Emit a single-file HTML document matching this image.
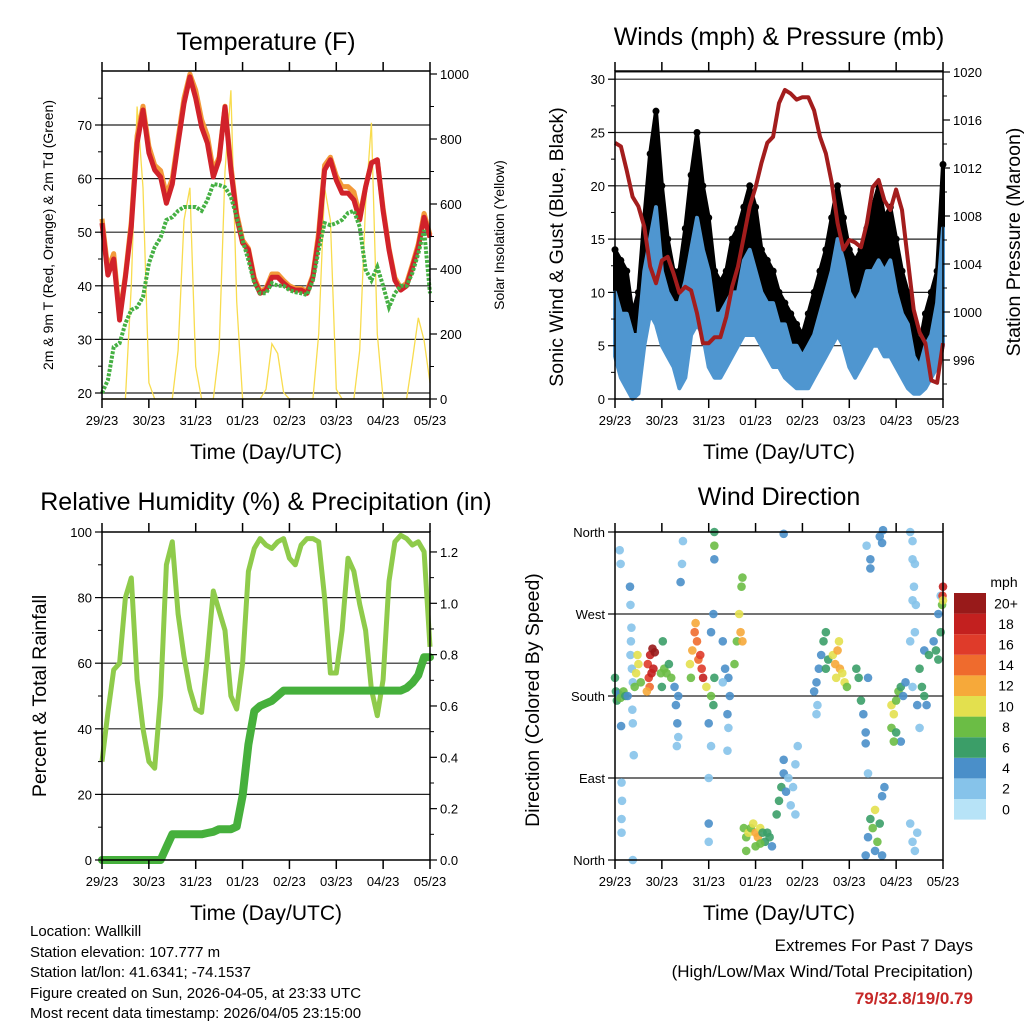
<!DOCTYPE html>
<html><head><meta charset="utf-8">
<style>
html,body{margin:0;padding:0;background:#fff;}
svg{display:block;font-family:"Liberation Sans",Arial,sans-serif;}
</style></head>
<body>
<svg id="chart" width="1024" height="1024" viewBox="0 0 1024 1024" xmlns="http://www.w3.org/2000/svg">
<rect width="1024" height="1024" fill="#fff"/>
<g id="p1"></g>
<g id="p2"></g>
<g id="p3"></g>
<g id="p4"></g>

<text x="266" y="50" font-size="25" text-anchor="middle">Temperature (F)</text>
<text x="779" y="45" font-size="25" text-anchor="middle">Winds (mph) &amp; Pressure (mb)</text>
<text x="266" y="510" font-size="25" text-anchor="middle">Relative Humidity (%) &amp; Precipitation (in)</text>
<text x="779" y="505" font-size="25" text-anchor="middle">Wind Direction</text>

<text x="266" y="459" font-size="21" text-anchor="middle">Time (Day/UTC)</text>
<text x="779" y="459" font-size="21" text-anchor="middle">Time (Day/UTC)</text>
<text x="266" y="920" font-size="21" text-anchor="middle">Time (Day/UTC)</text>
<text x="779" y="920" font-size="21" text-anchor="middle">Time (Day/UTC)</text>

<text transform="translate(53,235) rotate(-90)" font-size="14" text-anchor="middle">2m &amp; 9m T (Red, Orange) &amp; 2m Td (Green)</text>
<text transform="translate(504,235) rotate(-90)" font-size="14" text-anchor="middle">Solar Insolation (Yellow)</text>
<text transform="translate(563,247) rotate(-90)" font-size="19.5" text-anchor="middle">Sonic Wind &amp; Gust (Blue, Black)</text>
<text transform="translate(1020,242) rotate(-90)" font-size="19.5" text-anchor="middle">Station Pressure (Maroon)</text>
<text transform="translate(46,696) rotate(-90)" font-size="19.5" text-anchor="middle">Percent &amp; Total Rainfall</text>
<text transform="translate(539,700) rotate(-90)" font-size="19.5" text-anchor="middle">Direction (Colored By Speed)</text>

<g font-size="15">
<text x="30" y="936">Location: Wallkill</text>
<text x="30" y="957">Station elevation: 107.777 m</text>
<text x="30" y="977">Station lat/lon: 41.6341; -74.1537</text>
<text x="30" y="998">Figure created on Sun, 2026-04-05, at 23:33 UTC</text>
<text x="30" y="1018">Most recent data timestamp: 2026/04/05 23:15:00</text>
</g>
<g font-size="17" text-anchor="end">
<text x="973" y="951">Extremes For Past 7 Days</text>
<text x="973" y="977">(High/Low/Max Wind/Total Precipitation)</text>
<text x="973" y="1004" fill="#c62828" font-weight="bold">79/32.8/19/0.79</text>
</g>
<g id="cbar"></g>
</svg>
<script>
// ---------- data ----------
const sampleHours = [0,3,6,9,12,15,18,21,24,27,30,33,36,39,42,45,48,51,54,57,60,63,66,69,72,75,78,81,84,87,90,93,96,99,102,105,108,111,114,117,120,123,126,129,132,135,138,141,144,147,150,153,156,159,162,165,168];
const dayLabels = ["29/23","30/23","31/23","01/23","02/23","03/23","04/23","05/23"];
const temp2m = [51.7,42,45,33.6,41.6,51,66.6,72.8,64.8,61.6,60.3,55.4,59,66.6,74,79,75,69.6,66.6,60.3,63.5,73.4,61.6,52.8,48,46.7,41,38.6,39.2,41.6,41.6,40.5,39.6,39.2,39.2,38.6,41.6,49,61.6,63.5,59.7,57.3,57.3,56,52.3,58.4,62.9,63.5,54,46.7,41,39.2,40,43.5,47.2,52.8,49];
const temp9m = [52.5,43,46,34.5,42,52,68,73.5,66,62.5,61.5,57,60,67.5,75,79.5,76.5,71,68,61.5,64,73.5,62.5,53.5,48.5,47,41.5,39,39.5,42.2,42.2,41,40,39.5,39.5,39,42,50,62.5,64,60.5,58.5,58.5,57.5,53,58.5,63,63.5,54.5,47,41.5,39.6,40.5,44,47.8,53.5,49.5];
const dewpoint = [20,22.4,28.6,29.3,33,35.5,36,37.9,44.2,47.2,49,52.3,52.8,54,54.7,54.7,54.7,54,56,59,58.8,58.4,56.6,52.8,48.5,44.8,40.5,38.6,38.6,40.5,40,40,39.2,38.8,38.6,38.3,41,46.7,51.7,51.3,51.7,52.3,53.6,54,51,43,41,43.5,40,36,38.6,40,40,42.4,46,50.4,38.6];
const solar = [0,0,0,0,0,350,900,650,50,0,0,0,0,150,550,650,100,0,0,0,150,700,950,300,0,0,0,0,30,170,140,20,0,0,0,0,0,200,650,550,30,0,0,0,150,600,850,200,0,0,0,0,0,120,250,180,50];
const pressure = [1014.1,1013.8,1011.8,1009.6,1008.8,1007.1,1003.8,1002.4,1004.3,1004.6,1003.2,1001.6,1002.1,1001.8,999.9,997.4,997.4,997.9,997.9,999.6,1002.1,1003.8,1006.3,1008.8,1010.4,1012.4,1014.1,1014.6,1017.4,1018.5,1018.2,1017.7,1017.9,1017.9,1016.8,1014.6,1013.2,1010.8,1007.4,1005.2,1006,1005.8,1005.4,1007.4,1010.4,1011,1009.3,1008.5,1010.2,1008.5,1004.3,1000.2,998.3,997.4,994.3,994.1,997.4];
const gustHigh = [14,13,12,8,10,17,23,27,20,15,12,12,16,21,25,20,17,12,11,12,15,16,18,20,18,14,13,12,10,9,8,7,6,8,10,12,14,17,20,17,14,13,14,16,18,20,17,18,15,12,10,7,5,8,10,12,22];
const gustLow = [8,5,3,0.5,3,8,12,12,9,7,5,3,5,10,13,10,7,5,4,6,8,8,9,10,10,8,7,6,5,4,3,2,2,3,4,6,7,8,10,8,6,5,6,8,9,9,7,8,7,5,4,2,1.5,3,4,6,10];
const windHigh = [10,8,8,6,6,12,15,18,12,10,9,9,11,14,17,14,12,8,8,9,10,10,13,14,12,10,9,9,7,7,5,5,4,5,6,8,10,12,15,13,10,9,10,12,12,13,12,13,10,8,7,4,3,5,6,9,16];
const windLow = [4,2,1,0,0.5,5,8,7,5,4,3,1,2,6,7,6,3,2,2,3,4,5,6,6,6,5,4,3,3,2,1.5,1,1,1,2,3,4,5,6,5,3,2,3,4,5,5,4,4,3,2,1,0.5,0.5,1,2,3,5];
const humidity = [30,45,58,60,80,86,55,40,30,28,50,90,97,75,62,52,46,45,62,82,76,70,50,46,60,88,95,98,96,95,97,98,92,90,96,98,98,97,80,57,57,70,92,88,78,70,52,44,55,85,97,99,98,96,97,94,65];
const rainfall = [0,0,0,0,0,0,0,0,0,0,0,0.05,0.1,0.1,0.1,0.1,0.1,0.1,0.105,0.11,0.12,0.12,0.12,0.13,0.25,0.45,0.58,0.6,0.61,0.62,0.64,0.66,0.66,0.66,0.66,0.66,0.66,0.66,0.66,0.66,0.66,0.66,0.66,0.66,0.66,0.66,0.66,0.66,0.66,0.66,0.66,0.66,0.67,0.69,0.72,0.79,0.79];
const dirDays = [0,0.02,0.04,0.08,0.12,0.18,0.22,0.27,0.13,0.1,0.12,0.32,0.33,0.35,0.34,0.33,0.36,0.38,0.37,0.38,0.4,0.14,0.15,0.14,0.14,0.38,0.45,0.5,0.55,0.42,0.48,0.7,0.75,0.8,0.85,0.72,0.78,0.74,0.68,0.82,0.98,1.05,1.1,1.15,1.2,1.0,1.02,1.27,1.3,1.33,1.35,1.32,1.35,1.43,1.4,1.45,1.6,1.65,1.7,1.75,1.78,1.85,1.88,1.82,1.72,1.95,1.62,2.05,2.1,2.12,2.0,2.05,2.0,2.0,2.0,2.05,2.1,2.12,2.12,2.12,2.3,2.35,2.42,2.45,2.4,2.42,2.4,2.3,2.55,2.6,2.65,2.7,2.72,2.68,2.72,2.75,2.8,2.85,2.9,2.95,3.0,3.05,3.1,3.15,3.2,3.25,3.3,3.35,2.8,3.0,3.1,3.45,3.5,3.55,3.6,3.65,3.7,3.75,3.8,3.85,3.9,3.85,3.6,3.6,4.25,4.3,4.35,4.4,4.45,4.3,4.32,4.5,4.5,4.55,4.65,4.7,4.75,4.8,4.85,4.9,4.95,4.72,4.78,5.15,5.2,5.25,5.3,5.35,5.35,5.4,5.4,5.37,5.45,5.45,5.65,5.7,5.72,5.35,5.4,5.45,5.5,5.55,5.6,5.65,5.7,5.75,5.55,5.7,5.9,5.95,6.0,6.05,6.1,6.15,6.2,5.9,6.0,6.1,5.95,6.3,6.35,6.35,6.4,6.38,6.35,6.42,6.3,6.35,6.4,6.45,6.3,6.5,6.55,6.6,6.65,6.6,6.7,6.8,6.85,6.9,6.95,6.9,6.95,6.98,7.0,6.99,7.0,6.5,6.45,6.35,6.4];
const dirDeg = [200,185,175,182,178,185,180,180,147,340,325,300,280,255,240,225,210,195,165,150,115,85,65,45,30,0,205,215,195,190,225,215,225,232,228,200,205,190,185,210,205,210,205,215,200,190,240,190,170,150,135,125,180,325,305,350,215,230,250,240,220,210,200,225,260,190,200,180,170,200,150,125,90,40,20,250,270,330,360,345,240,210,200,180,160,145,120,195,215,240,270,300,310,250,240,35,25,30,35,40,30,25,35,30,20,30,25,15,10,15,18,50,65,80,95,75,90,60,80,105,125,50,110,358,185,195,210,225,240,160,170,250,210,220,225,215,230,210,205,195,190,200,240,210,200,175,160,140,128,200,95,345,330,320,355,348,362,5,25,45,35,55,20,40,70,80,10,5,170,160,175,185,190,180,195,145,140,130,130,360,350,330,325,300,285,280,40,20,10,30,240,210,190,180,170,230,225,240,230,220,250,270,290,280,300,290,285,145,170,190,250];
const dirSpeed = [6,6,5,4,7,7,6,4,3,1,1,3,1,2,2,2,1,2,1,1,1,1,2,1,1,1,10,10,8,8,9,16,18,19,20,16,17,14,12,18,8,7,8,6,7,5,6,4,4,3,2,2,4,1,3,1,9,12,13,14,14,16,17,15,12,9,8,7,6,6,3,1,2,3,2,3,4,3,6,7,4,3,4,4,3,2,1,2,7,8,9,8,7,11,11,7,8,10,8,10,12,11,9,6,6,6,5,4,7,8,7,5,6,5,4,3,2,2,2,2,2,2,4,4,4,4,4,4,5,2,2,6,5,5,10,11,12,12,10,9,8,9,9,5,6,5,4,4,3,4,2,2,4,3,4,4,4,3,4,5,8,10,8,6,4,4,4,4,9,10,8,7,6,4,4,8,6,4,7,1,1,1,2,1,2,1,1,2,2,2,1,5,6,6,4,4,5,3,6,5,6,4,1,8,18,16,10,2,4,2,2];
const speedTicks = ["0","2","4","6","8","10","12","14","16","18","20+"];
const speedColors = ["#b7e3f7","#86c3ea","#4a8fc9","#3b9e68","#6bbd45","#e3e04e","#f6a93a","#ef6b2d","#df3b2a","#c3201f","#981a1a"];

// ---------- helpers ----------
const NS="http://www.w3.org/2000/svg";
function mk(parent,tag,attrs){const e=document.createElementNS(NS,tag);for(const k in attrs)e.setAttribute(k,attrs[k]);parent.appendChild(e);return e;}
function panelFrame(g,x0,y0,w,h){
  for(let d=0;d<dayLabels.length;d++){
    const x=x0+d*w/7;
    mk(g,'line',{x1:x,y1:y0-9,x2:x,y2:y0,stroke:'#000','stroke-width':1.5});
    mk(g,'line',{x1:x,y1:y0+h,x2:x,y2:y0+h+9,stroke:'#000','stroke-width':1.5});
    const t=mk(g,'text',{x:x,y:y0+h+26,'font-size':13,'text-anchor':'middle'});
    t.textContent=dayLabels[d];
    
    
  }
}
function box(g,x0,y0,w,h){mk(g,'rect',{x:x0,y:y0,width:w,height:h,fill:'none',stroke:'#000','stroke-width':1.5});}
function yTicks(g,side,x,ys,labels,minor){
  ys.forEach((y,i)=>{
    const dx=side==='l'?-7:7;
    mk(g,'line',{x1:x,y1:y,x2:x+dx,y2:y,stroke:'#000','stroke-width':1.2});
    if(labels){const t=mk(g,'text',{x:x+(side==='l'?-10:10),y:y+5,'font-size':13,'text-anchor':side==='l'?'end':'start'});t.textContent=labels[i];
      
      }
  });
  (minor||[]).forEach(y=>{const dx=side==='l'?-4:4;mk(g,'line',{x1:x,y1:y,x2:x+dx,y2:y,stroke:'#000','stroke-width':1});});
}
function pathFrom(xs,ys){return xs.map((x,i)=>(i?'L':'M')+x.toFixed(1)+','+ys[i].toFixed(1)).join(' ');}

// ---------- panel 1: temperature ----------
(function(){
  const g=document.getElementById('p1');
  const X0=102,Y0=71,W=328,H=328;
  const xs=h=>X0+h/168*W;
  const yT=v=>393-(v-20)*5.36;
  const yS=v=>399-v*0.325;
  [20,30,40,50,60,70].forEach(v=>{const l=mk(g,'line',{x1:X0,x2:X0+W,y1:yT(v),y2:yT(v),stroke:'#222','stroke-width':1.2});
    
    });
  const px=sampleHours.map(xs);
  const sol=mk(g,'path',{d:pathFrom(px,solar.map(yS)),fill:'none',stroke:'#f8dc4e','stroke-width':1.3});
  
  
  const o=mk(g,'path',{d:pathFrom(px,temp9m.map(yT)),fill:'none',stroke:'#f39a3a','stroke-width':5,'stroke-linejoin':'round'});
  
  
  const r=mk(g,'path',{d:pathFrom(px,temp2m.map(yT)),fill:'none',stroke:'#d1222a','stroke-width':5,'stroke-linejoin':'round'});
  
  
  const gr=mk(g,'path',{d:pathFrom(px,dewpoint.map(yT)),fill:'none',stroke:'#45b043','stroke-width':4,'stroke-dasharray':'3 1.5'});
  
  
  box(g,X0,Y0,W,H);
  panelFrame(g,X0,Y0,W,H);
  yTicks(g,'l',X0,[20,30,40,50,60,70].map(yT),["20","30","40","50","60","70"],[25,35,45,55,65,75].map(yT));
  yTicks(g,'r',X0+W,[0,200,400,600,800,1000].map(yS),["0","200","400","600","800","1000"],[100,300,500,700,900].map(yS));
})();

// ---------- panel 2: winds & pressure ----------
(function(){
  const g=document.getElementById('p2');
  const X0=615,Y0=71,W=328,H=328;
  const xs=h=>X0+h/168*W;
  const yW=v=>399-v*10.66;
  const yP=p=>72+(1020-p)*12;
  [5,10,15,20,25,30].forEach(v=>{const l=mk(g,'line',{x1:X0,x2:X0+W,y1:yW(v),y2:yW(v),stroke:'#222','stroke-width':1.2});
    
    });
  mk(g,'line',{x1:X0,x2:X0+W,y1:yP(1020),y2:yP(1020),stroke:'#222','stroke-width':1});
  const px=sampleHours.map(xs);
  const band=(hi,lo,fill,name)=>{
    const d=pathFrom(px,hi.map(yW))+' '+px.slice().reverse().map((x,i)=>'L'+x.toFixed(1)+','+yW(lo[lo.length-1-i]).toFixed(1)).join(' ')+' Z';
    const e=mk(g,'path',{d:d,fill:fill,stroke:fill,'stroke-width':4,'stroke-linejoin':'round'});
    
    
  };
  band(gustHigh,gustLow,'#000','gust-band');
  gustHigh.forEach((v,i)=>{const c=mk(g,'circle',{cx:px[i],cy:yW(v),r:3.5,fill:'#000'});
    
    });
  band(windHigh,windLow,'#4f96d0','sonic-wind-band');
  const p=mk(g,'path',{d:pathFrom(px,pressure.map(yP)),fill:'none',stroke:'#a31d1d','stroke-width':4,'stroke-linejoin':'round'});
  
  
  box(g,X0,Y0,W,H);
  panelFrame(g,X0,Y0,W,H);
  yTicks(g,'l',X0,[0,5,10,15,20,25,30].map(yW),["0","5","10","15","20","25","30"],[2.5,7.5,12.5,17.5,22.5,27.5].map(yW));
  yTicks(g,'r',X0+W,[996,1000,1004,1008,1012,1016,1020].map(yP),["996","1000","1004","1008","1012","1016","1020"],[994,998,1002,1006,1010,1014,1018].map(yP));
})();

// ---------- panel 3: humidity & precipitation ----------
(function(){
  const g=document.getElementById('p3');
  const X0=102,Y0=532,W=328,H=328;
  const xs=h=>X0+h/168*W;
  const yH=v=>860-v*3.28;
  const yR=v=>860-v*256.7;
  [20,40,60,80].forEach(v=>{const l=mk(g,'line',{x1:X0,x2:X0+W,y1:yH(v),y2:yH(v),stroke:'#222','stroke-width':1.2});
    
    });
  const px=sampleHours.map(xs);
  const h=mk(g,'path',{d:pathFrom(px,humidity.map(yH)),fill:'none',stroke:'#8fcb4b','stroke-width':5,'stroke-linejoin':'round'});
  
  
  const r=mk(g,'path',{d:pathFrom(px,rainfall.map(yR)),fill:'none',stroke:'#46b03c','stroke-width':8,'stroke-linejoin':'round','stroke-linecap':'round'});
  
  
  box(g,X0,Y0,W,H);
  panelFrame(g,X0,Y0,W,H);
  yTicks(g,'l',X0,[0,20,40,60,80,100].map(yH),["0","20","40","60","80","100"],[10,30,50,70,90].map(yH));
  yTicks(g,'r',X0+W,[0,0.2,0.4,0.6,0.8,1.0,1.2].map(yR),["0.0","0.2","0.4","0.6","0.8","1.0","1.2"],[0.1,0.3,0.5,0.7,0.9,1.1].map(yR));
})();

// ---------- panel 4: wind direction ----------
(function(){
  const g=document.getElementById('p4');
  const X0=615,Y0=532,W=328,H=328;
  const xs=d=>X0+d/7*W;
  const yD=v=>860-v*328/360;
  [90,180,270].forEach(v=>{const l=mk(g,'line',{x1:X0,x2:X0+W,y1:yD(v),y2:yD(v),stroke:'#222','stroke-width':1.2});
    
    });
  const col=s=>speedColors[Math.min(10,Math.max(0,Math.round(s/2)))];
  dirDays.forEach((d,i)=>{
    const c=mk(g,'circle',{cx:xs(d),cy:yD(dirDeg[i]),r:4.3,fill:col(dirSpeed[i]),'fill-opacity':0.9});
    
    
  });
  box(g,X0,Y0,W,H);
  panelFrame(g,X0,Y0,W,H);
  yTicks(g,'l',X0,[0,90,180,270,360].map(yD),["North","East","South","West","North"],[]);
  const cb=document.getElementById('cbar');
  const bx=954,by=593,bh=20.6;
  for(let i=0;i<speedColors.length;i++){
    const y=by+(10-i)*bh;
    const r=mk(cb,'rect',{x:bx,y:y,width:32,height:bh,fill:speedColors[i]});
    
    
    const t=mk(cb,'text',{x:1006,y:y+bh/2+5,'font-size':14,'text-anchor':'middle'});
    t.textContent=speedTicks[i];
    
    
  }
  const u=mk(cb,'text',{x:1004,y:587,'font-size':14,'text-anchor':'middle'});
  u.textContent='mph';
  
  
})();
</script>
</body></html>
